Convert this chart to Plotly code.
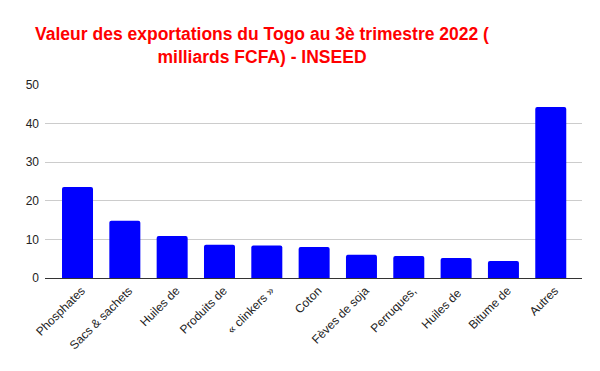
import plotly.graph_objects as go

categories = ["Phosphates", "Sacs & sachets", "Huiles de", "Produits de", "« clinkers »",
              "Coton", "Fèves de soja", "Perruques,", "Huiles de ", "Bitume de", "Autres"]
values = [23.6, 14.8, 10.9, 8.6, 8.4, 8.0, 6.0, 5.7, 5.2, 4.4, 44.3]
y_ticks = [0, 10, 20, 30, 40, 50]

fig = go.Figure(go.Bar(
    x=categories, y=values,
    marker=dict(color="#0000ff", cornerradius=2, line=dict(width=0)),
))

# the page body adds an 8px offset; margins compensate for it
fig.update_layout(
    width=600, height=371,
    paper_bgcolor="white", plot_bgcolor="white",
    margin=dict(l=37, r=26, t=77, b=101),
    bargap=0.345,
    showlegend=False,
    font=dict(family="Liberation Sans, Arial, sans-serif", size=12, color="#222"),
    title=dict(
        text="Valeur des exportations du Togo au 3è trimestre 2022 (<br>milliards FCFA) - INSEED",
        x=254/600, xanchor="center", xref="container",
        y=1 - 32/371, yanchor="top", yref="container",
        font=dict(family="Liberation Sans, Arial, sans-serif", size=17.5, color="#ff0000", weight="bold"),
    ),
    xaxis=dict(
        tickangle=-45, showgrid=False, showline=True, linecolor="#333", linewidth=1,
        ticks="", tickfont=dict(size=12, color="#222"), automargin=False,
        range=[-0.687, 10.66], ticklabelshift=4,
    ),
    yaxis=dict(
        range=[0, 50], tickvals=y_ticks, showgrid=True, gridcolor="#cccccc",
        zeroline=False, showline=False, ticks="", tickfont=dict(size=12, color="#222"),
        ticklabelstandoff=5, automargin=False,
    ),
)

fig.write_html("out.html")
